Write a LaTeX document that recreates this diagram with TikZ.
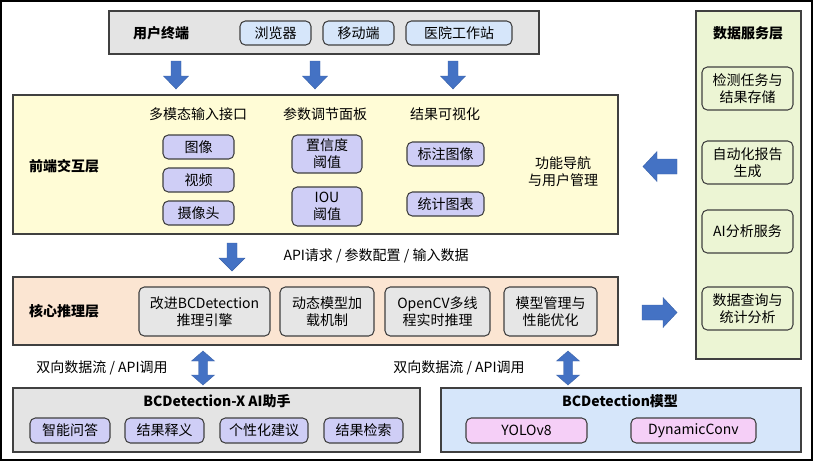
\documentclass[tikz,border=0pt]{standalone}
\usepackage{fontspec}
\setmainfont{Noto Sans CJK SC}
\usetikzlibrary{fit}
\definecolor{arrowc}{HTML}{4472C4}
\definecolor{arrowd}{HTML}{3A62A8}
\definecolor{graybg}{HTML}{E4E4E4}
\definecolor{lblue}{HTML}{D6E6FA}
\definecolor{lpurple}{HTML}{CFCEF6}
\definecolor{lyellow}{HTML}{FFFCD6}
\definecolor{lorange}{HTML}{FBE5D2}
\definecolor{lgreen}{HTML}{ECF5D4}
\definecolor{lpink}{HTML}{F5CFF7}
\definecolor{cgray}{HTML}{E6E6E6}
\definecolor{edge}{HTML}{404040}
\newcommand\blkdown[6]{\fill[arrowc,draw=arrowd,line width=0.3pt] ({#1-#4},#2) -- ({#1+#4},#2) -- ({#1+#4},{#3-#6}) -- ({#1+#5},{#3-#6}) -- (#1,#3) -- ({#1-#5},{#3-#6}) -- ({#1-#4},{#3-#6}) -- cycle;}
\newcommand\blkhor[6]{\fill[arrowc,draw=arrowd,line width=0.3pt] (#1,#3) -- ({#1+#6},{#3-#5}) -- ({#1+#6},{#3-#4}) -- (#2,{#3-#4}) -- (#2,{#3+#4}) -- ({#1+#6},{#3+#4}) -- ({#1+#6},{#3+#5}) -- cycle;}
\newcommand\blkdbl[6]{\fill[arrowc,draw=arrowd,line width=0.3pt] (#1,#2) -- ({#1+#5},{#2+#6}) -- ({#1+#4},{#2+#6}) -- ({#1+#4},{#3-#6}) -- ({#1+#5},{#3-#6}) -- (#1,#3) -- ({#1-#5},{#3-#6}) -- ({#1-#4},{#3-#6}) -- ({#1-#4},{#2+#6}) -- ({#1-#5},{#2+#6}) -- cycle;}
% box with centred text: style, name, corner1, corner2, text
\newcommand\bx[5]{\node[#1, fit={#3 #4}] (#2) {}; \node (#2t) at (#2.center) {#5};}
\begin{document}
\begin{tikzpicture}[x=0.75pt,y=-0.75pt,
  every node/.style={font=\fontsize{10.5pt}{12.6pt}\selectfont, inner sep=0pt, align=center},
  layer/.style={draw=edge, line width=0.8pt},
  sub/.style={draw=edge, line width=0.8pt, rounded corners=4pt},
  ttl/.style={font=\fontsize{10.5pt}{12.6pt}\selectfont\bfseries}]
\useasboundingbox (0,0) rectangle (813,461);
\fill[white] (0,0) rectangle (813,461);
\draw[line width=1.5pt] (1,1) rectangle (812,460);

% user terminal
\node[layer, fill=graybg, fit={(109,11)(539,54)}] (term) {};
\node[ttl] (termt) at (161,33) {用户终端};
\bx{sub, fill=lblue}{b1}{(240,21)}{(311,45)}{浏览器}
\bx{sub, fill=lblue}{b2}{(323,21)}{(394,45)}{移动端}
\bx{sub, fill=lblue}{b3}{(406,21)}{(512,45)}{医院工作站}

\blkdown{176}{61}{89}{5}{12.5}{13}
\blkdown{315}{61}{89}{5}{12.5}{13}
\blkdown{453}{61}{89}{5}{12.5}{13}

% front-end
\node[layer, fill=lyellow, fit={(13,95)(618,234)}] (front) {};
\node[ttl] (frontt) at (64,166) {前端交互层};
\node (c1) at (198,114) {多模态输入接口};
\node (c2) at (325,114) {参数调节面板};
\node (c3) at (445,114) {结果可视化};
\bx{sub, fill=lpurple}{i1}{(163,135)}{(234,159)}{图像}
\bx{sub, fill=lpurple}{i2}{(163,168)}{(234,192)}{视频}
\bx{sub, fill=lpurple}{i3}{(163,201)}{(234,225)}{摄像头}
\bx{sub, fill=lpurple}{p1}{(292,135)}{(362,173)}{置信度\\阈值}
\bx{sub, fill=lpurple}{p2}{(292,187)}{(362,226)}{IOU\\阈值}
\bx{sub, fill=lpurple}{v1}{(407,142)}{(484,166)}{标注图像}
\bx{sub, fill=lpurple}{v2}{(407,192)}{(484,216)}{统计图表}
\node (nav) at (563,172) {功能导航\\与用户管理};

% data service
\node[layer, fill=lgreen, fit={(696,11)(801,359)}] (data) {};
\node[ttl] (datat) at (748,33) {数据服务层};
\bx{sub, fill=lgreen}{d1}{(702,67)}{(793,110)}{检测任务与\\结果存储}
\bx{sub, fill=lgreen}{d2}{(702,141)}{(793,184)}{自动化报告\\生成}
\bx{sub, fill=lgreen}{d3}{(702,210)}{(793,253)}{AI分析服务}
\bx{sub, fill=lgreen}{d4}{(702,287)}{(793,330)}{数据查询与\\统计分析}

\blkhor{643}{677}{166.5}{7.5}{15}{14}
\blkhor{677}{642}{312.5}{7.5}{15}{-14}

% API arrow
\blkdown{232}{243}{271}{5}{13}{13}
\node (api) at (376,256) {API请求 / 参数配置 / 输入数据};

% core
\node[layer, fill=lorange, fit={(13,277)(618,345)}] (core) {};
\node[ttl] (coret) at (64,311) {核心推理层};
\bx{sub, fill=cgray}{k1}{(139,287)}{(270,336)}{改进BCDetection\\推理引擎}
\bx{sub, fill=cgray}{k2}{(280,287)}{(374,336)}{动态模型加\\载机制}
\bx{sub, fill=cgray}{k3}{(385,287)}{(490,336)}{OpenCV多线\\程实时推理}
\bx{sub, fill=cgray}{k4}{(504,287)}{(597,336)}{模型管理与\\性能优化}

% double arrows
\blkdbl{203}{351}{385}{4.5}{11.5}{10}
\blkdbl{568}{351}{385}{4.5}{11.5}{10}
\node (l1) at (102,368) {双向数据流 / API调用};
\node (l2) at (459,368) {双向数据流 / API调用};

% AI assistant
\node[layer, fill=graybg, fit={(13,388)(420,452)}] (ai) {};
\node[ttl] (ait) at (217,401) {BCDetection-X AI助手};
\bx{sub, fill=lpurple}{a1}{(30,418)}{(110,443)}{智能问答}
\bx{sub, fill=lpurple}{a2}{(125,418)}{(204,443)}{结果释义}
\bx{sub, fill=lpurple}{a3}{(220,418)}{(308,443)}{个性化建议}
\bx{sub, fill=lpurple}{a4}{(324,418)}{(403,443)}{结果检索}

% model
\node[layer, fill=lblue, fit={(441,388)(801,452)}] (model) {};
\node[ttl] (modelt) at (620,401) {BCDetection模型};
\bx{sub, fill=lpink}{m1}{(466,418)}{(587,443)}{YOLOv8}
\bx{sub, fill=lpink}{m2}{(631,418)}{(756,443)}{DynamicConv}
\end{tikzpicture}
\end{document}
